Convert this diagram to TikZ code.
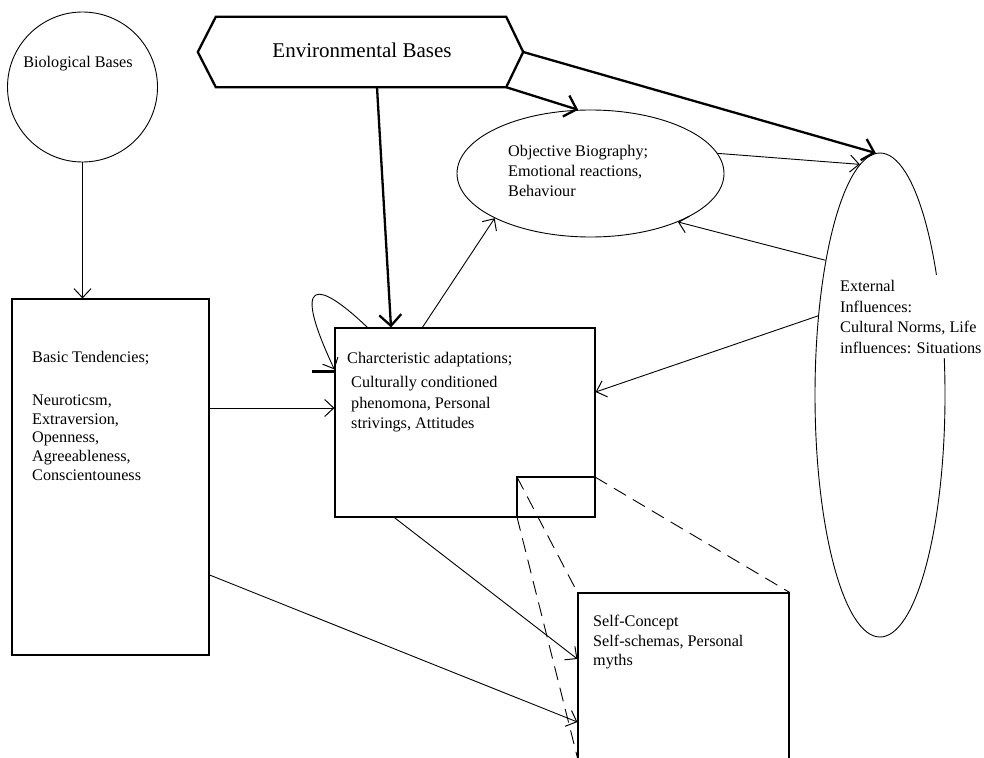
\documentclass[tikz,border=0pt]{standalone}
\usepackage{fontspec}
\setmainfont{Liberation Serif}
\usetikzlibrary{shapes.geometric,arrows.meta,calc}
\begin{document}
\begin{tikzpicture}[x=1pt,y=-1pt,
  thin line/.style={line width=0.9pt},
  thick line/.style={line width=2.3pt},
  boxline/.style={draw,line width=1.2pt,inner sep=0pt},
  arr/.style={thin line,-{Straight Barb[length=9pt,width=17pt,line width=1pt]}},
  tarr/.style={thick line,-{Straight Barb[length=11pt,width=22pt,line width=2.3pt]}},
  dsh/.style={thin line,dash pattern=on 14pt off 8pt},
  txt/.style={font=\fontsize{16.2}{20}\selectfont,align=left,inner sep=0pt}
]
\useasboundingbox[fill=white] (0,0) rectangle (984,757);

% shapes
\node[circle,draw,thin line,minimum size=150pt,inner sep=0pt] (bio) at (82.5,87) {};
\node[txt,anchor=base] (biot) at (78,68) {Biological Bases};

\node[boxline,rectangle,minimum width=197pt,minimum height=356pt] (basic) at (110.5,477) {};
\node[txt,anchor=north west,font=\fontsize{16.2}{18.8}\selectfont] (basict) at (32,351)
  {Basic Tendencies;\\[24pt]Neuroticsm,\\Extraversion,\\Openness,\\Agreeableness,\\Conscientouness};

\node[boxline,rectangle,minimum width=260pt,minimum height=189pt] (char) at (465,422.5) {};
\node[txt,anchor=north west] (chart) at (347,352) {Charcteristic adaptations;};
\node[txt,anchor=north west,font=\fontsize{16.2}{20.7}\selectfont] (chart2) at (351,376) {Culturally conditioned\\phenomona, Personal\\strivings, Attitudes};

\coordinate (inA) at (517,477);
\coordinate (inB) at (595,477);
\coordinate (inC) at (517,517);
\draw[line width=1.2pt] (inC) -- (inA) -- (inB);
\draw[line width=2.5pt] (inA) -- ++(0,24);

\node[boxline,rectangle,minimum width=211pt,minimum height=190pt] (self) at (683.5,688) {};
\node[txt,anchor=north west,font=\fontsize{16.2}{19.5}\selectfont] (selft) at (593,615) {Self-Concept\\Self-schemas, Personal\\myths};

\node[ellipse,draw,thin line,minimum width=267pt,minimum height=127pt,inner sep=0pt] (obj) at (590.5,173.5) {};
\node[txt,anchor=north west] (objt) at (508,145) {Objective Biography;\\Emotional reactions,\\Behaviour};

\node[ellipse,draw,thin line,minimum width=130pt,minimum height=484pt,inner sep=0pt] (ext) at (880,395) {};
\node[txt,anchor=north west,fill=white,inner ysep=5pt,inner xsep=2pt,font=\fontsize{16.2}{20.6}\selectfont] (extt) at (838,275)
  {External\\Influences:\\Cultural Norms, Life\\influences: Situations};

\node[minimum width=325pt,minimum height=70pt,inner sep=0pt] (env) at (360.5,52) {};
\draw[thick line,line join=miter] (env.west) -- ([xshift=18pt]env.north west) -- ([xshift=-17pt]env.north east)
  -- (env.east) -- ([xshift=-17pt]env.south east) -- ([xshift=18pt]env.south west) -- cycle;
\node[font=\fontsize{21}{25}\selectfont,inner sep=0pt] (envt) at (362,50) {Environmental Bases};

% connectors
\draw[arr] (bio.south) -- (bio.south |- basic.north);
\draw[arr] (basic.east |- 0,408) -- (char.west |- 0,408);
\draw[arr] (basic.east |- 0,575) -- (self.west |- 0,722);
\draw[arr] ([xshift=60pt]char.south west) -- (self.west |- 0,659);
\draw[arr] ([xshift=88pt]char.north west) -- (obj.205.7);
\draw[arr] ([xshift=33pt]char.north west) .. controls (318,280) and (290,275) .. ([yshift=-42pt]char.north west);
\draw[line width=2.3pt] ([yshift=-44pt,xshift=-22pt]char.north west) -- ([yshift=-44pt]char.north west);

\draw[tarr] ([xshift=16.5pt]env.south) -- ([xshift=-74pt]char.north);
\draw[tarr] ([xshift=-17pt]env.south east) -- (obj.101);
\draw[tarr] (env.east) -- (ext.91.7);

\draw[arr] (obj.9.2) -- (ext.95.8);
\draw[arr] (ext.112.3) -- (obj.331.5);
\draw[arr] (ext.128.1) -- (char.east |- 0,392);

\draw[dsh] (inA) -- (self.north west);
\draw[dsh] (inB) -- (self.north east);
\draw[dsh] (inC) -- (578,760);
\end{tikzpicture}
\end{document}
